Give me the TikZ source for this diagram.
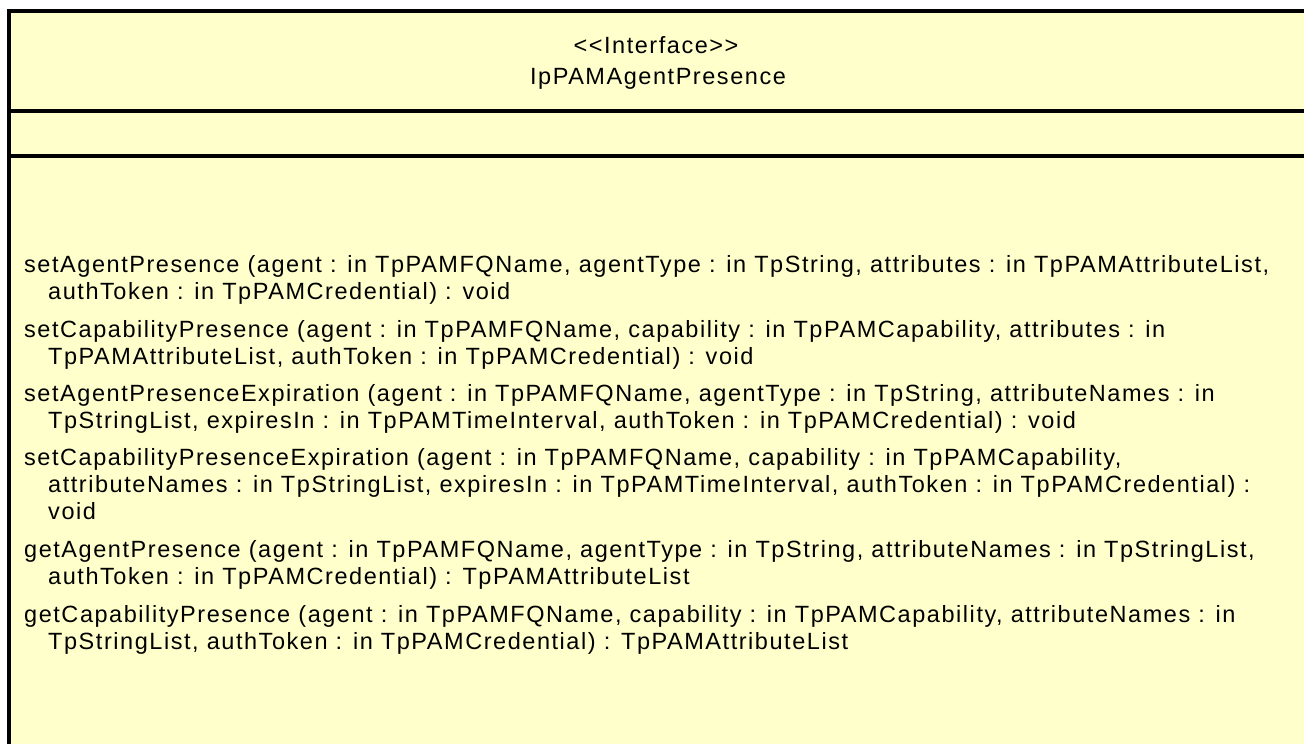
\documentclass[tikz,border=0pt]{standalone}
\usepackage{fontspec}
\setmainfont[LetterSpace=6.6]{Liberation Sans}
\definecolor{umlYellow}{HTML}{FFFFCC}
\tikzset{
  umlline/.style={line width=4pt, black},
  optext/.style={anchor=base west, inner sep=0pt, align=left,
    font=\fontsize{23.5}{27}\selectfont},
  headtext/.style={anchor=base, inner sep=0pt,
    font=\fontsize{23.5}{27}\selectfont}
}
\newcommand{\contline}{\\\hspace*{24pt}}

\begin{document}
\begin{tikzpicture}[x=1pt, y=-1pt]
    \useasboundingbox (0,0) rectangle (1304,744);

    % class box, open to the right and the bottom
    \fill[umlYellow] (7,9) rectangle (1304,744);
    \draw[umlline] (9,744) -- (9,11) -- (1304,11);
    \draw[umlline] (7,111) -- (1304,111);
    \draw[umlline] (7,156) -- (1304,156);

    \node[headtext] (stereo) at (656,53) {<{}<Interface>{}>};
    \node[headtext] (cname)  at (658,84) {IpPAMAgentPresence};

    % operations, placed at the baseline of their last line
    \node[optext] (setAgent) at (24,299)
      {setAgentPresence (agent : in TpPAMFQName, agentType : in TpString, attributes : in TpPAMAttributeList,
       \contline authToken : in TpPAMCredential) : void};
    \node[optext] (setCap) at (24,364)
      {setCapabilityPresence (agent : in TpPAMFQName, capability : in TpPAMCapability, attributes : in
       \contline TpPAMAttributeList, authToken : in TpPAMCredential) : void};
    \node[optext] (setAgentExp) at (24,428)
      {setAgentPresenceExpiration (agent : in TpPAMFQName, agentType : in TpString, attributeNames : in
       \contline TpStringList, expiresIn : in TpPAMTimeInterval, authToken : in TpPAMCredential) : void};
    \node[optext] (setCapExp) at (24,519)
      {setCapabilityPresenceExpiration (agent : in TpPAMFQName, capability : in TpPAMCapability,
       \contline attributeNames : in TpStringList, expiresIn : in TpPAMTimeInterval, authToken : in TpPAMCredential) :
       \contline void};
    \node[optext] (getAgent) at (24,584)
      {getAgentPresence (agent : in TpPAMFQName, agentType : in TpString, attributeNames : in TpStringList,
       \contline authToken : in TpPAMCredential) : TpPAMAttributeList};
    \node[optext] (getCap) at (24,649)
      {getCapabilityPresence (agent : in TpPAMFQName, capability : in TpPAMCapability, attributeNames : in
       \contline TpStringList, authToken : in TpPAMCredential) : TpPAMAttributeList};
\end{tikzpicture}
\end{document}
